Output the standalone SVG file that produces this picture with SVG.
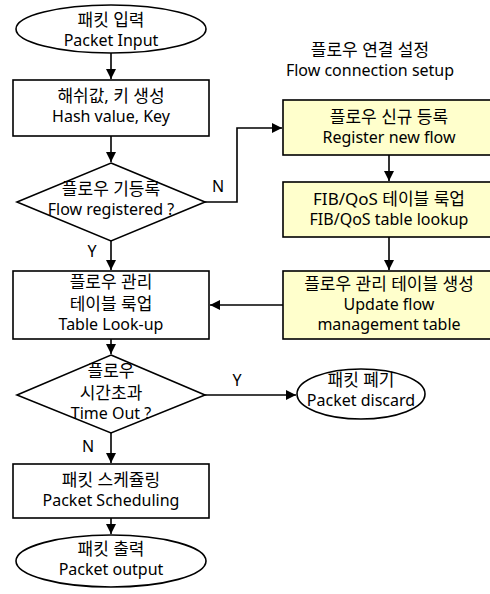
<svg xmlns="http://www.w3.org/2000/svg" width="490" height="594" viewBox="0 0 490 594">
<defs>
<marker id="ah" viewBox="0 0 10 10" refX="10" refY="5" markerWidth="10" markerHeight="10" markerUnits="userSpaceOnUse" orient="auto">
<path d="M0,0 L10,5 L0,10 Z" fill="#000"/>
</marker>
<style>
.s{fill:#fff;stroke:#000;stroke-width:1.6}
.y{fill:#ffffcc;stroke:#000;stroke-width:1.6}
.c{fill:none;stroke:#000;stroke-width:1.6}
text{font-family:"Noto Sans","Noto Sans CJK KR",sans-serif;font-size:16px;fill:#000;text-anchor:middle}
text.k{font-size:17px}
</style>
</defs>
<rect width="490" height="594" fill="#fff"/>
<g id="connectors">
<path class="c" d="M111,53 V79" marker-end="url(#ah)"/>
<path class="c" d="M111,136 V162" marker-end="url(#ah)"/>
<path class="c" d="M205,202 H237 V128 H282" marker-end="url(#ah)"/>
<path class="c" d="M111,241 V270" marker-end="url(#ah)"/>
<path class="c" d="M389,155 V181" marker-end="url(#ah)"/>
<path class="c" d="M389,237 V270" marker-end="url(#ah)"/>
<path class="c" d="M283,305 H210" marker-end="url(#ah)"/>
<path class="c" d="M111,339 V354" marker-end="url(#ah)"/>
<path class="c" d="M205,395 H296" marker-end="url(#ah)"/>
<path class="c" d="M111,433 V463" marker-end="url(#ah)"/>
<path class="c" d="M111,518 V534" marker-end="url(#ah)"/>
<text x="218" y="192">N</text>
<text x="92" y="257">Y</text>
<text x="237" y="386">Y</text>
<text x="88" y="452">N</text>
</g>
<g id="title">
<text class="k" x="370" y="56">플로우 연결 설정</text>
<text x="370" y="76">Flow connection setup</text>
</g>
<g id="packet-input">
<ellipse class="s" cx="111" cy="29" rx="95" ry="24"/>
<text class="k" x="111" y="26">패킷 입력</text>
<text x="111" y="46">Packet Input</text>
</g>
<g id="hash-key">
<rect class="s" x="13" y="80" width="196" height="56"/>
<text class="k" x="111" y="102">해쉬값, 키 생성</text>
<text x="111" y="122">Hash value, Key</text>
</g>
<g id="flow-registered">
<path class="s" d="M111,163 L205,202 L111,241 L17,202 Z"/>
<text class="k" x="111" y="195">플로우 기등록</text>
<text x="111" y="215">Flow registered ?</text>
</g>
<g id="register-new-flow">
<rect class="y" x="283" y="100" width="212" height="55"/>
<text class="k" x="389" y="123">플로우 신규 등록</text>
<text x="389" y="143">Register new flow</text>
</g>
<g id="fib-qos-lookup">
<rect class="y" x="283" y="182" width="212" height="55"/>
<text class="k" x="389" y="205">FIB/QoS 테이블 룩업</text>
<text x="389" y="225">FIB/QoS table lookup</text>
</g>
<g id="update-flow-table">
<rect class="y" x="283" y="271" width="212" height="68"/>
<text class="k" x="389" y="290">플로우 관리 테이블 생성</text>
<text x="389" y="310">Update flow</text>
<text x="389" y="330">management table</text>
</g>
<g id="table-lookup">
<rect class="s" x="13" y="271" width="196" height="68"/>
<text class="k" x="111" y="288">플로우 관리</text>
<text class="k" x="111" y="310">테이블 룩업</text>
<text x="111" y="330">Table Look-up</text>
</g>
<g id="time-out">
<path class="s" d="M111,355 L205,395 L111,433 L17,395 Z"/>
<text class="k" x="111" y="377">플로우</text>
<text class="k" x="111" y="399">시간초과</text>
<text x="111" y="419">Time Out ?</text>
</g>
<g id="packet-discard">
<ellipse class="s" cx="361" cy="394" rx="64" ry="25"/>
<text class="k" x="361" y="386">패킷 폐기</text>
<text x="361" y="406">Packet discard</text>
</g>
<g id="packet-scheduling">
<rect class="s" x="13" y="464" width="196" height="54"/>
<text class="k" x="111" y="486">패킷 스케쥴링</text>
<text x="111" y="506">Packet Scheduling</text>
</g>
<g id="packet-output">
<ellipse class="s" cx="111" cy="561" rx="95" ry="26"/>
<text class="k" x="111" y="555">패킷 출력</text>
<text x="111" y="575">Packet output</text>
</g>
</svg>
